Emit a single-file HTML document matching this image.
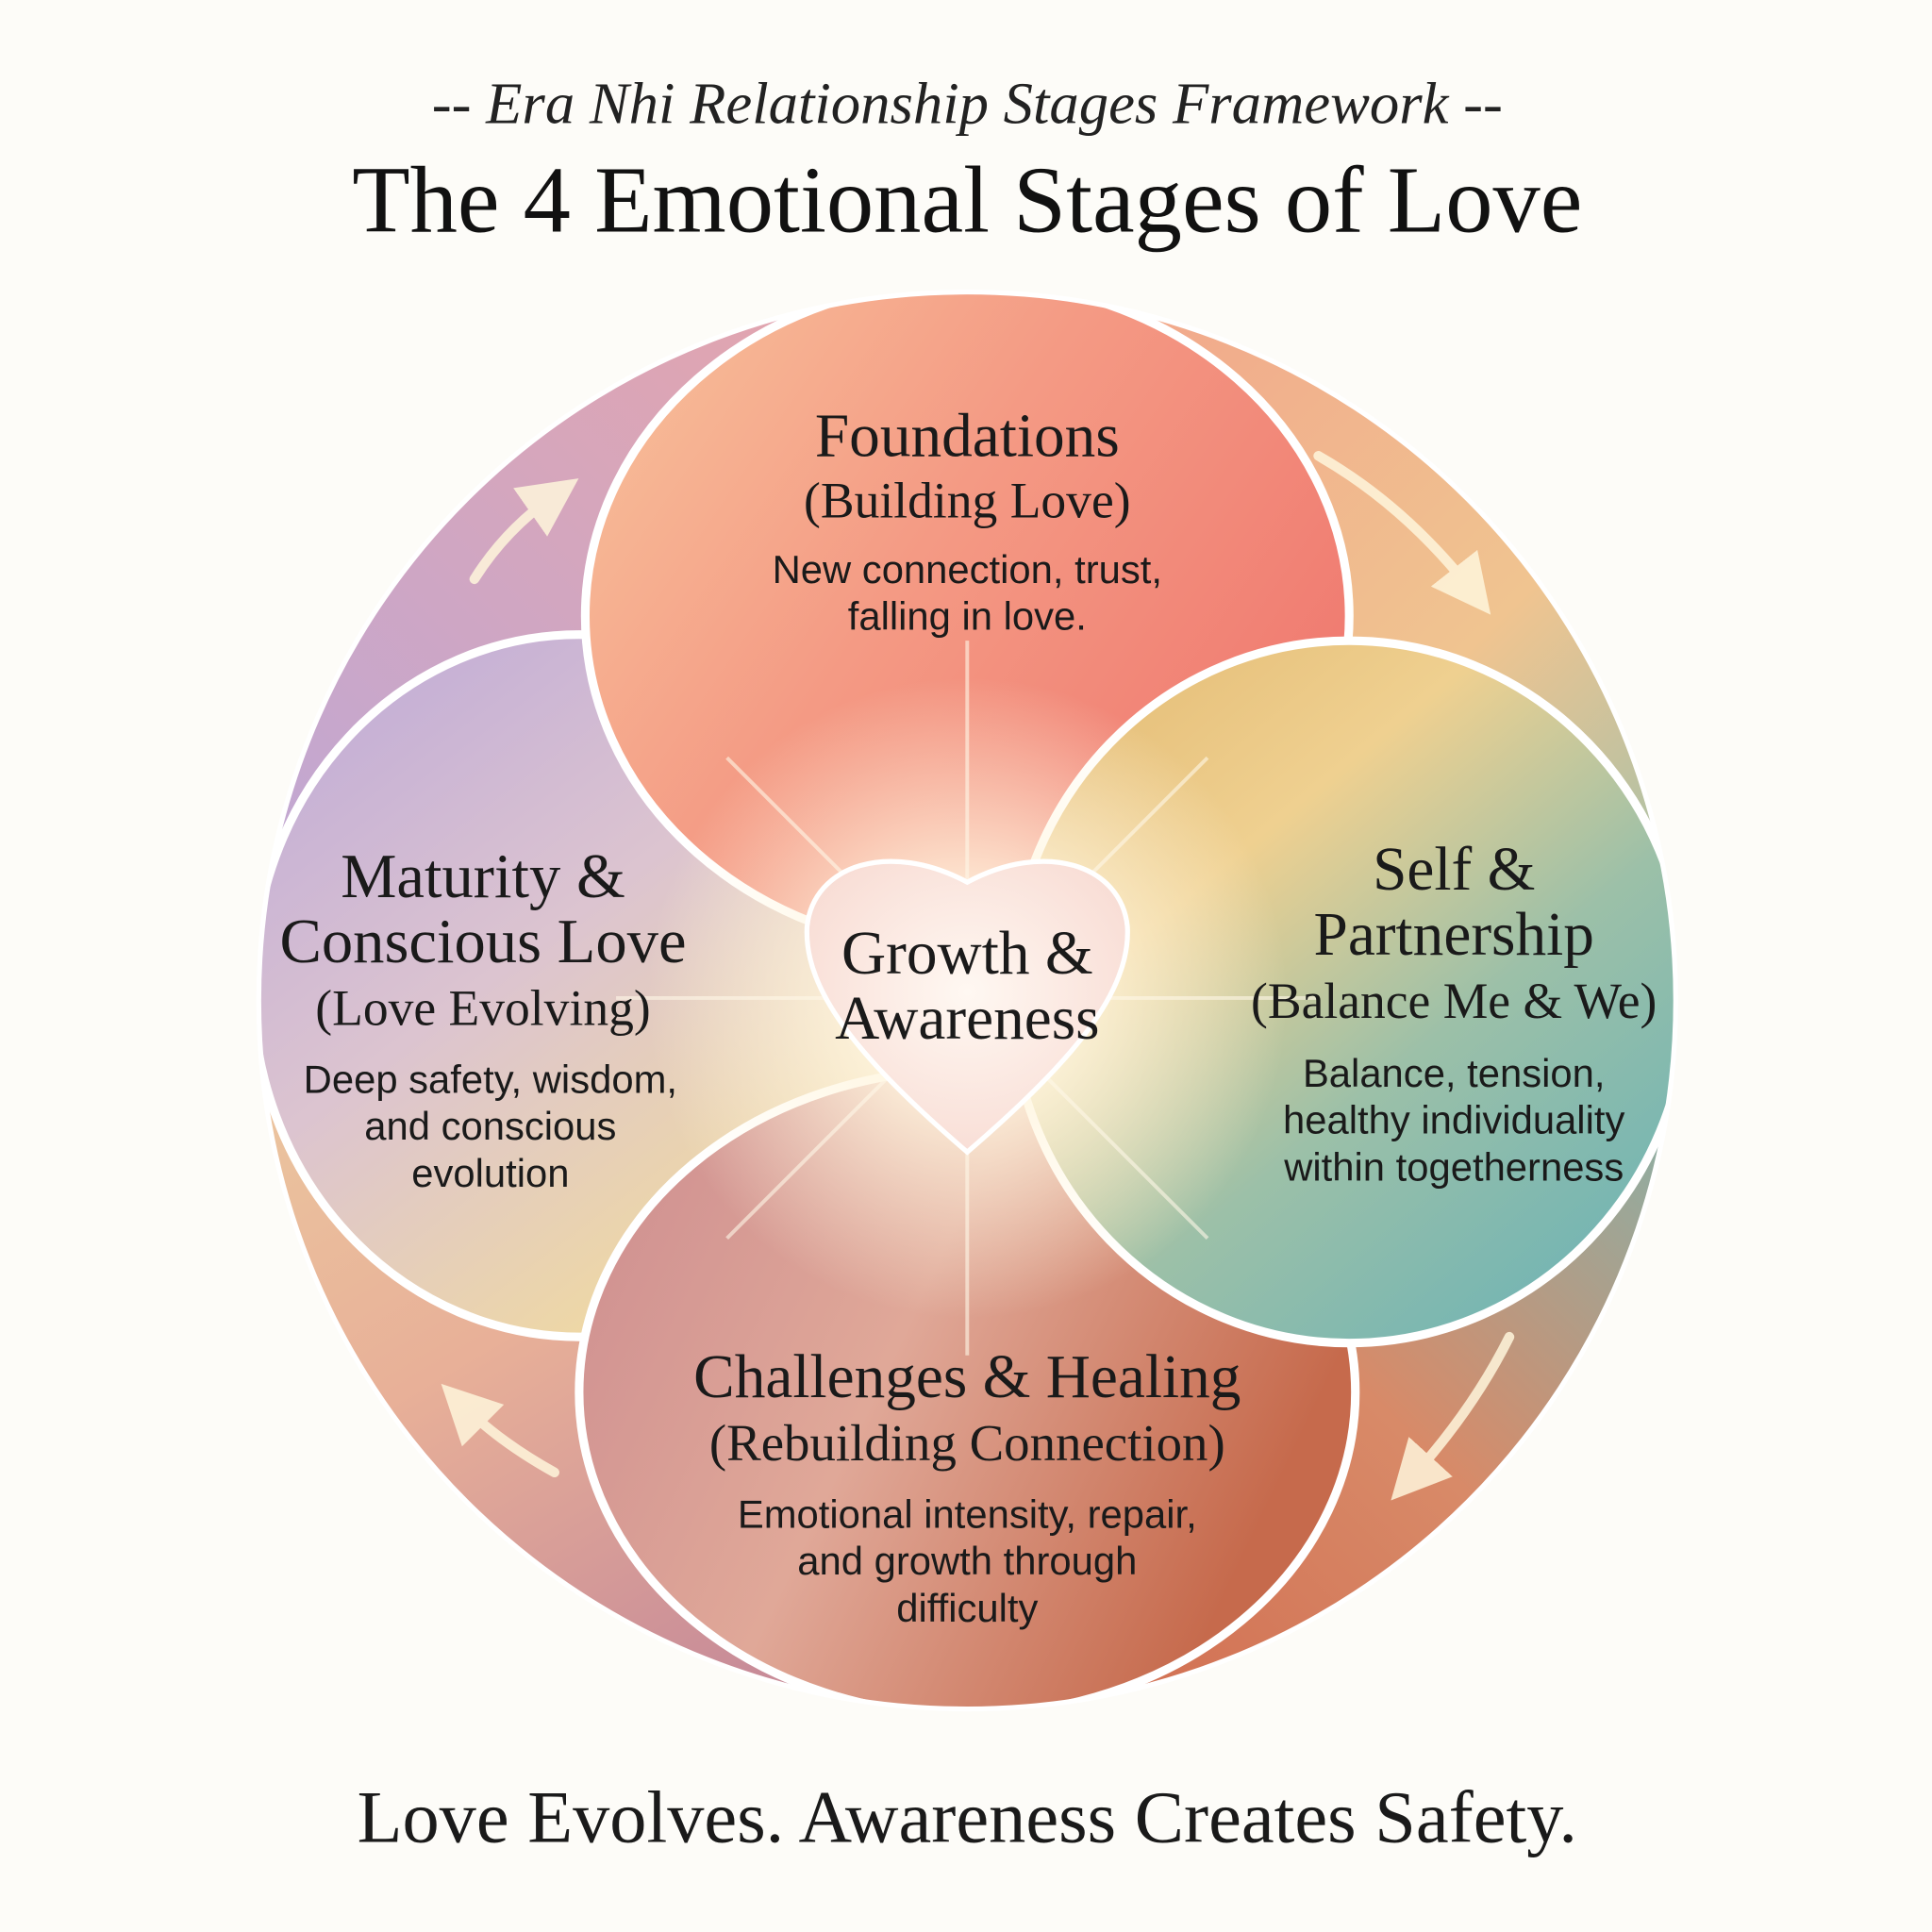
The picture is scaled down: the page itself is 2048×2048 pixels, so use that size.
<!DOCTYPE html>
<html><head><meta charset="utf-8"><style>
html,body{margin:0;padding:0;background:#fdfcf8;}
svg{display:block;}
.serif{font-family:"Liberation Serif",serif;}
.sans{font-family:"Liberation Sans",sans-serif;}
</style></head><body>
<svg width="2048" height="2048" viewBox="0 0 1568 1568" xmlns="http://www.w3.org/2000/svg">
<defs>
<clipPath id="cc"><circle cx="785" cy="812" r="575"/></clipPath>
<linearGradient id="qTL" x1="0" y1="1" x2="1" y2="0">
<stop offset="0" stop-color="#bca8d8"/><stop offset="1" stop-color="#e8a4a8"/></linearGradient>
<linearGradient id="qTR" x1="0" y1="0" x2="1" y2="1">
<stop offset="0" stop-color="#f2a08a"/><stop offset="0.6" stop-color="#f0c490"/><stop offset="1" stop-color="#90c0b0"/></linearGradient>
<linearGradient id="qBR" x1="1" y1="0" x2="0" y2="1">
<stop offset="0" stop-color="#78b8b4"/><stop offset="0.5" stop-color="#d88a68"/><stop offset="1" stop-color="#d0684c"/></linearGradient>
<linearGradient id="qBL" x1="0" y1="0" x2="0.6" y2="1">
<stop offset="0" stop-color="#eccaa0"/><stop offset="0.5" stop-color="#e8b098"/><stop offset="1" stop-color="#c88c98"/></linearGradient>
<linearGradient id="gTop" x1="0" y1="0" x2="1" y2="0.6">
<stop offset="0" stop-color="#f8c49c"/><stop offset="0.5" stop-color="#f49a84"/><stop offset="1" stop-color="#f07a70"/></linearGradient>
<linearGradient id="gRight" x1="0" y1="0" x2="0.8" y2="1">
<stop offset="0" stop-color="#e2b870"/><stop offset="0.35" stop-color="#efd090"/><stop offset="0.65" stop-color="#9cc0a8"/><stop offset="1" stop-color="#70b4b4"/></linearGradient>
<linearGradient id="gBottom" x1="0" y1="0" x2="1" y2="0.4">
<stop offset="0" stop-color="#cc8c90"/><stop offset="0.5" stop-color="#e0a898"/><stop offset="1" stop-color="#c66a4c"/></linearGradient>
<linearGradient id="gLeft" x1="0" y1="0" x2="0.7" y2="1">
<stop offset="0" stop-color="#bca8d8"/><stop offset="0.5" stop-color="#dcc4d0"/><stop offset="1" stop-color="#f2dc9c"/></linearGradient>
<radialGradient id="glow" cx="0.5" cy="0.5" r="0.5">
<stop offset="0" stop-color="#fffbee" stop-opacity="1"/><stop offset="0.35" stop-color="#fff6e0" stop-opacity="0.85"/><stop offset="1" stop-color="#fff6e0" stop-opacity="0"/></radialGradient>
<radialGradient id="heart" cx="0.5" cy="0.45" r="0.6">
<stop offset="0" stop-color="#fff8f2"/><stop offset="1" stop-color="#f8dcd4"/></radialGradient>
<marker id="ah" markerWidth="6" markerHeight="6" refX="3" refY="3" orient="auto" markerUnits="strokeWidth"><path d="M0,0 L6,3 L0,6 Z" fill="#fff6dc"/></marker>
</defs>
<text x="785" y="100" text-anchor="middle" class="serif" font-style="italic" font-size="48" fill="#222">-- Era Nhi Relationship Stages Framework --</text>
<text x="785" y="188" text-anchor="middle" class="serif" font-size="77" fill="#111">The 4 Emotional Stages of Love</text>

<g clip-path="url(#cc)">
<rect x="200" y="230" width="585" height="582" fill="url(#qTL)"/>
<rect x="785" y="230" width="590" height="582" fill="url(#qTR)"/>
<rect x="785" y="812" width="590" height="580" fill="url(#qBR)"/>
<rect x="200" y="812" width="585" height="580" fill="url(#qBL)"/>
<ellipse cx="470" cy="800" rx="265" ry="285" fill="url(#gLeft)" stroke="#fff" stroke-width="7"/>
<ellipse cx="785" cy="500" rx="310" ry="272" fill="url(#gTop)" stroke="#fff" stroke-width="7"/>
<ellipse cx="785" cy="1130" rx="315" ry="262" fill="url(#gBottom)" stroke="#fff" stroke-width="7"/>
<ellipse cx="1095" cy="805" rx="275" ry="285" fill="url(#gRight)" stroke="#fff" stroke-width="7"/>
</g>
<circle cx="785" cy="812" r="575" fill="none" stroke="#fff" stroke-width="4"/>
<circle cx="785" cy="810" r="260" fill="url(#glow)"/>
<g stroke="#fff8e8" stroke-width="3" opacity="0.6">
<line x1="785" y1="810" x2="785" y2="520"/><line x1="785" y1="810" x2="785" y2="1100"/>
<line x1="785" y1="810" x2="500" y2="810"/><line x1="785" y1="810" x2="1070" y2="810"/>
<line x1="785" y1="810" x2="590" y2="615"/><line x1="785" y1="810" x2="980" y2="615"/>
<line x1="785" y1="810" x2="590" y2="1005"/><line x1="785" y1="810" x2="980" y2="1005"/>
</g>
<path d="M785 935 C700 862,652 805,655 752 C660 702,722 682,785 716 C848 682,910 702,915 752 C918 805,870 862,785 935 Z" fill="url(#heart)" stroke="#fff" stroke-width="4"/>

<g fill="none" stroke="#fff6dc" stroke-width="8" stroke-linecap="round" opacity="0.85">
<path d="M385 470 Q410 430 450 402" marker-end="url(#ah)"/>
<path d="M1070 370 Q1140 410 1195 480" marker-end="url(#ah)"/>
<path d="M1225 1085 Q1195 1145 1145 1200" marker-end="url(#ah)"/>
<path d="M450 1195 Q405 1170 375 1140" marker-end="url(#ah)"/>
</g>

<g class="serif" fill="#1a1a1a" text-anchor="middle">
<text x="785" y="370" font-size="50">Foundations</text>
<text x="785" y="420" font-size="41">(Building Love)</text>
<text x="1180" y="722" font-size="50">Self &amp;</text>
<text x="1180" y="775" font-size="50">Partnership</text>
<text x="1180" y="826" font-size="41">(Balance Me &amp; We)</text>
<text x="392" y="728" font-size="51">Maturity &amp;</text>
<text x="392" y="781" font-size="51">Conscious Love</text>
<text x="392" y="832" font-size="41">(Love Evolving)</text>
<text x="785" y="790" font-size="50">Growth &amp;</text>
<text x="785" y="843" font-size="50">Awareness</text>
<text x="785" y="1134" font-size="50">Challenges &amp; Healing</text>
<text x="785" y="1185" font-size="42">(Rebuilding Connection)</text>
<text x="785" y="1495" font-size="60">Love Evolves. Awareness Creates Safety.</text>
</g>
<g class="sans" fill="#1a1a1a" text-anchor="middle" font-size="32">
<text x="785" y="473">New connection, trust,</text>
<text x="785" y="511">falling in love.</text>
<text x="1180" y="882">Balance, tension,</text>
<text x="1180" y="920">healthy individuality</text>
<text x="1180" y="958">within togetherness</text>
<text x="398" y="887">Deep safety, wisdom,</text>
<text x="398" y="925">and conscious</text>
<text x="398" y="963">evolution</text>
<text x="785" y="1240">Emotional intensity, repair,</text>
<text x="785" y="1278">and growth through</text>
<text x="785" y="1316">difficulty</text>
</g>
</svg>
</body></html>
